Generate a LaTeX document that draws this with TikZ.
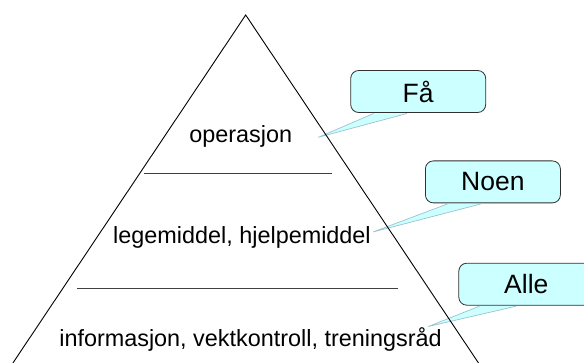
\documentclass[tikz,border=0pt]{standalone}
\usepackage{fontspec}
\setmainfont{Liberation Sans}
\usetikzlibrary{calc}
\definecolor{callfill}{HTML}{CCFFFF}
\definecolor{calledge}{HTML}{9CC3CF}
\definecolor{boxedge}{HTML}{303030}
\definecolor{layeredge}{HTML}{404040}
\begin{document}
\begin{tikzpicture}[x=1pt,y=-1pt,
  lbl/.style={font=\fontsize{23.4}{28}\selectfont, inner sep=0pt, anchor=base},
  callbox/.style={draw=boxedge, line width=0.8pt, fill=callfill, rounded corners=8pt,
    minimum width=135pt, minimum height=42pt, inner sep=0pt,
    font=\fontsize{26.5}{30}\selectfont},
  ptrfill/.style={fill=callfill},
  ptredge/.style={draw=calledge, line width=0.7pt},
  layerline/.style={draw=layeredge, line width=0.9pt},
  sideline/.style={draw=black, line width=0.9pt, line join=miter}]
\useasboundingbox (0,0) rectangle (584,363);
\clip (0,0) rectangle (584,363);

% callout boxes
\node[callbox] (fa)   at (418.2,91.5)  {Få};
\node[callbox] (noen) at (492.9,181.9) {Noen};
\node[callbox] (alle) at (526.3,284.2) {Alle};

% pointer base points and tips
\coordinate (fa1)   at ($(fa.south west)+(23.3,0.6)$);
\coordinate (fa2)   at ($(fa.south west)+(56.6,0.6)$);
\coordinate (fatip) at (318.3,137.3);
\coordinate (noen1) at ($(noen.south west)+(22.6,0.6)$);
\coordinate (noen2) at ($(noen.south west)+(56,0.6)$);
\coordinate (noentip) at (373,232);
\coordinate (alle1) at ($(alle.south west)+(21,0.6)$);
\coordinate (alle2) at ($(alle.south west)+(57.7,0.6)$);
\coordinate (alletip) at (428.3,326.5);

\foreach \c in {fa,noen,alle}{
  \fill[ptrfill] (\c1) -- (\c tip) -- (\c2) -- cycle;
  \draw[ptredge] (\c1) -- (\c tip) -- (\c2);
}

% texts
\node[lbl] (op)  at (240.8,143)   {operasjon};
\node[lbl] (leg) at (242,243.3)   {legemiddel, hjelpemiddel};
\node[lbl] (inf) at (250.5,347)   {informasjon, vektkontroll, treningsråd};

% pyramid
\coordinate (apex) at (245.7,15);
\coordinate (bl) at (12.9,363);
\coordinate (br) at (478.5,363);
\draw[sideline] (bl) -- (apex) -- (br);

\coordinate (l1a) at (144,173);
\coordinate (l1b) at (331.7,173);
\coordinate (l2a) at (77,288);
\coordinate (l2b) at (398,288);
\draw[layerline] (l1a) -- (l1b);
\draw[layerline] (l2a) -- (l2b);
\end{tikzpicture}
\end{document}
